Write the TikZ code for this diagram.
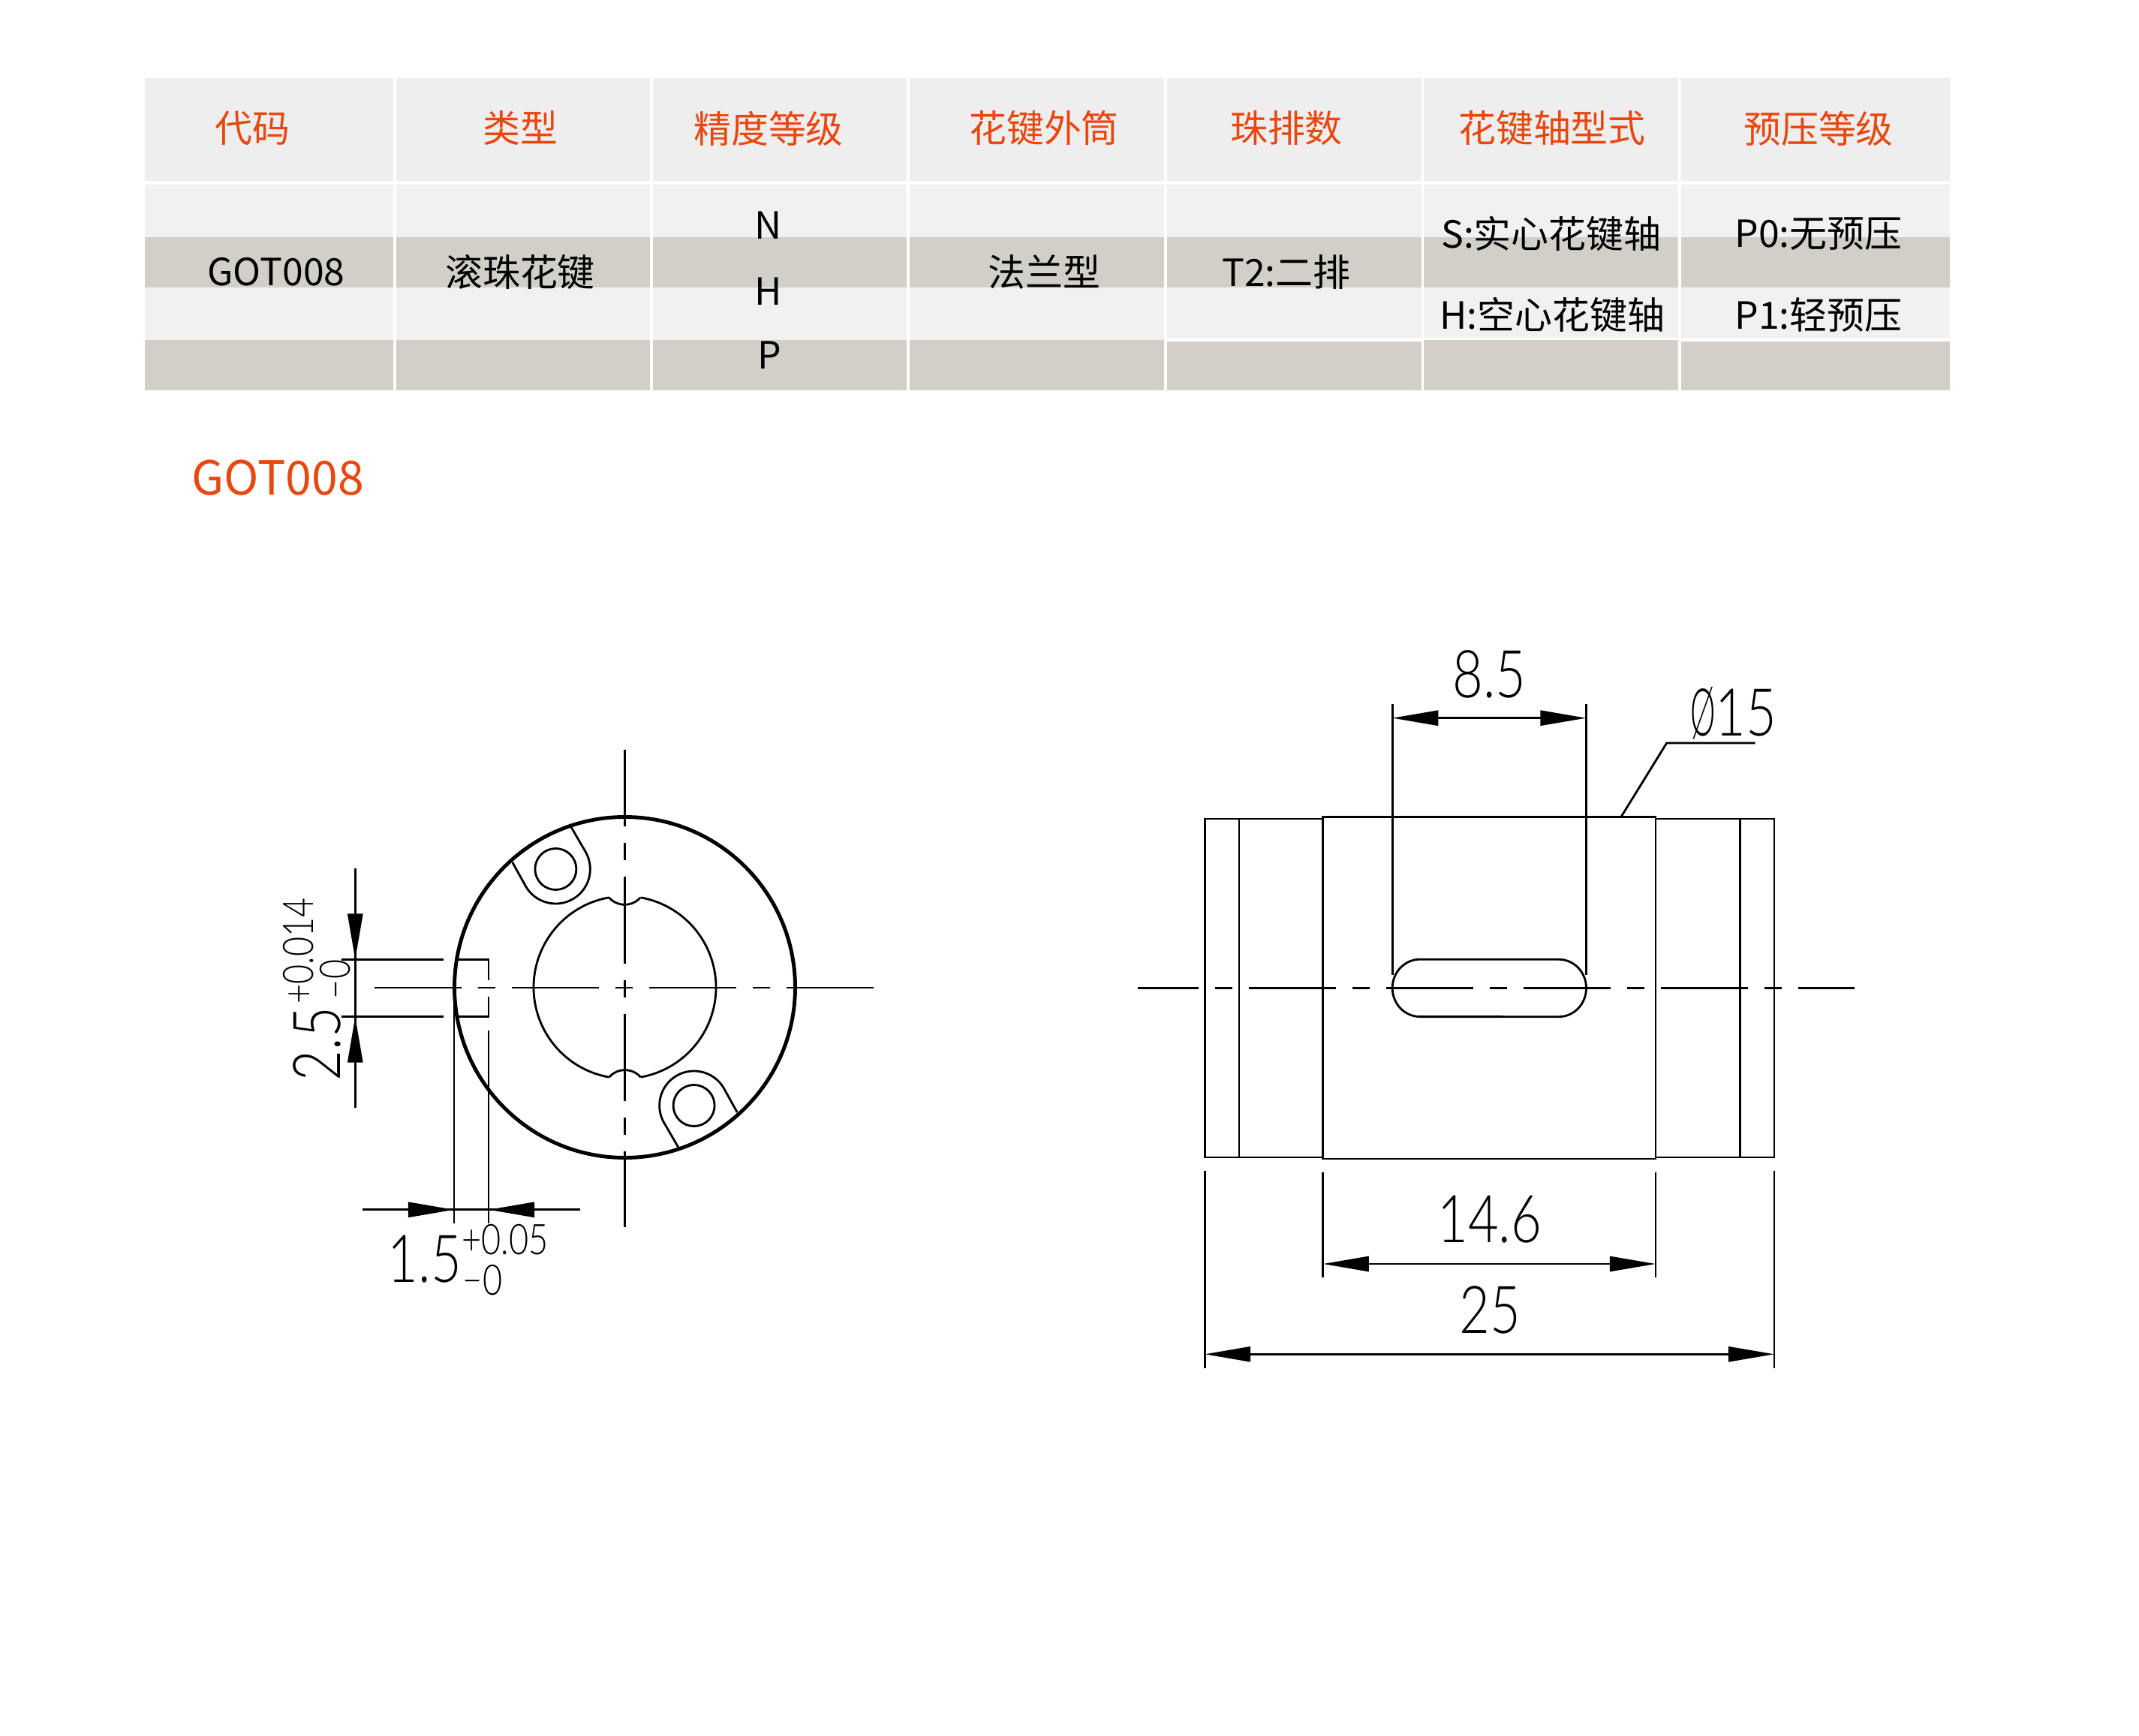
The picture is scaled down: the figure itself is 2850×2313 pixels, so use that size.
\documentclass[tikz,border=0pt]{standalone}
\usepackage{fontspec}
\usepackage{graphicx}
\usetikzlibrary{arrows.meta}
\setmainfont{Noto Sans CJK SC}
\newfontfamily\cadfont[FakeStretch=0.8,UprightFont={* Light}]{Lato}
\definecolor{headgray}{HTML}{EEEEEE}
\definecolor{lightgray}{HTML}{F1F1F1}
\definecolor{bandgray}{HTML}{D1CFC8}
\definecolor{codeorange}{HTML}{E8480F}
\tikzset{
    headtext/.style={text=codeorange, inner sep=0pt, font=\fontsize{14.2pt}{16pt}\selectfont},
    celltext/.style={text=black, inner sep=0pt, font=\fontsize{14.2pt}{16pt}\selectfont},
    dimtext/.style={inner sep=0pt, font=\cadfont\fontsize{25pt}{28pt}\selectfont},
    tolText/.style={inner sep=0pt, font=\cadfont\fontsize{16pt}{18pt}\selectfont},
    thinline/.style={line width=0.8pt},
    thickline/.style={line width=1.4pt},
    centerline/.style={line width=0.8pt, dash pattern=on 33pt off 6.26pt on 6.54pt off 6.26pt},
    dimarrow/.style={line width=0.8pt, {Triangle[length=0.61cm,width=0.2cm]}-{Triangle[length=0.61cm,width=0.2cm]}},
    tiparrow/.style={line width=0.8pt, -{Triangle[length=0.61cm,width=0.2cm]}}
}
\begin{document}
\begin{tikzpicture}[x=0.01cm,y=0.01cm]
    \useasboundingbox (0,0) rectangle (2850,-2313);
    % table cells, one column at a time
    \foreach \xa/\xb/\ylow/\ydark in {193/523.5/453/453.5, 527.5/866/453/453.5, 869.5/1208/453/453.5, 1212/1551/453/453.5, 1555/1893.5/450/455, 1897/2236/450/453.3, 2240/2598/450/455} {
        \fill[headgray] (\xa,-104) rectangle (\xb,-241);
        \fill[lightgray] (\xa,-246) rectangle (\xb,-316);
        \fill[bandgray] (\xa,-316) rectangle (\xb,-383);
        \fill[lightgray] (\xa,-383) rectangle (\xb,-\ylow);
        \fill[bandgray] (\xa,-\ydark) rectangle (\xb,-520);
    }
    % table head
    \foreach \i/\x/\txt in {1/336/代码, 2/693/类型, 3/1024/精度等级, 4/1391/花键外筒, 5/1714/珠排数, 6/2068/花键轴型式, 7/2423/预压等级}
        \node[headtext] (head\i) at (\x,-171) {\txt};
    % table body
    \node[celltext] (code) at (368,-362.5) {GOT008};
    \node[celltext] (kind) at (693,-362.5) {滚珠花键};
    \node[celltext] (gradeN) at (1024,-300) {N};
    \node[celltext] (gradeH) at (1024,-388) {H};
    \node[celltext] (gradeP) at (1025,-473) {P};
    \node[celltext] (flange) at (1391.5,-362.5) {法兰型};
    \node[celltext] (rows) at (1714,-362.5) {T2:二排};
    \node[celltext] (shaftS) at (2067,-311.5) {S:实心花键轴};
    \node[celltext] (shaftH) at (2068,-419.5) {H:空心花键轴};
    \node[celltext] (preA) at (2423,-312) {P0:无预压};
    \node[celltext] (preB) at (2423,-420) {P1:轻预压};
    \node[text=codeorange, inner sep=0pt, font=\fontsize{17.8pt}{20pt}\selectfont] (title) at (370,-637) {GOT008};

    % end view
    \coordinate (O) at (832.5,-1315.5);
    \draw[thickline] (O) circle[radius=227];
    \foreach \a in {0,180} {
        \begin{scope}[rotate around={\a:(O)}]
            \draw[thinline] (740.4,-1158) circle[radius=27.5];
            \draw[thinline] (761,-1102) -- (780.2,-1135) arc (30:-149:46) -- (682.8,-1149);
            % bore half with its notch
            \draw[thinline] (O) ++(100:121.5) arc (100:260:121.5);
            \draw[thinline] (O) ++(100:121.5) arc (221.4:318.6:28);
        \end{scope}
    }
    \draw[centerline] (499,-1316) -- (1165.5,-1316);
    \draw[centerline, dash phase=4pt] (832.5,-999) -- (832.5,-1635);
    % keyway and its dimensions
    \draw[thinline] (455,-1278.5) -- (591,-1278.5);
    \draw[thinline] (455,-1354.6) -- (591,-1354.6);
    \draw[thinline] (609,-1278.5) -- (651,-1278.5) -- (651,-1306);
    \draw[thinline] (651,-1328) -- (651,-1354.6) -- (609,-1354.6);
    \draw[thinline] (651,-1373) -- (651,-1630);
    \draw[thinline] (605,-1318) -- (605,-1630);
    \draw[thinline] (473.3,-1156.6) -- (473.3,-1476.5);
    \draw[tiparrow] (473.3,-1218) -- (473.3,-1278.5);
    \draw[tiparrow] (473.3,-1415) -- (473.3,-1354.6);
    \draw[thinline] (482.6,-1611.8) -- (773.3,-1611.8);
    \draw[tiparrow] (544,-1611.8) -- (605,-1611.8);
    \draw[tiparrow] (711.4,-1611.8) -- (651,-1611.8);
    \node[dimtext, rotate=90] (keyH) at (422,-1391) {2.5};
    \node[tolText, rotate=90] (keyHup) at (398,-1267) {+0.014};
    \node[tolText, rotate=90] (keyHlow) at (447,-1305) {−0};
    \node[dimtext] (keyW) at (566,-1678) {1.5};
    \node[tolText] (keyWup) at (673,-1652) {+0.05};
    \node[tolText] (keyWlow) at (643,-1706) {−0};

    % side view
    \draw[thinline] (1605.2,-1091) rectangle (1762.8,-1542);
    \draw[thinline] (2206,-1091) rectangle (2364,-1542);
    \draw[thinline] (1651,-1091) -- (1651,-1542);
    \draw[thinline] (2318.2,-1091) -- (2318.2,-1542);
    \draw[thinline, fill=white] (1762.8,-1088.3) rectangle (2206,-1544);
    \draw[thinline] (1892,-1278.3) -- (2077,-1278.3) arc (90:-90:36.5 and 38.2) -- (1892,-1354.6) arc (270:90:36.8 and 38.2) -- cycle;
    \draw[centerline, dash phase=10pt] (1516,-1316.5) -- (2471,-1316.5);
    % side view dimensions
    \draw[thinline] (1855.2,-938) -- (1855.2,-1299);
    \draw[thinline] (2113.5,-938) -- (2113.5,-1299);
    \draw[dimarrow] (1855.2,-956.7) -- (2113.5,-956.7);
    \node[dimtext] (slot) at (1984.7,-898.7) {8.5};
    \draw[thinline] (2160,-1088.3) -- (2220.7,-990) -- (2338.6,-990);
    \node[dimtext] (dia) at (2310,-950) {\scalebox{0.6}[1]{Ø}15};
    \draw[thinline] (1762.8,-1561.8) -- (1762.8,-1702.5);
    \draw[thinline] (2206,-1561.8) -- (2206,-1702.5);
    \draw[dimarrow] (1762.8,-1684) -- (2206,-1684);
    \node[dimtext] (mid) at (1984.7,-1624.5) {14.6};
    \draw[thinline] (1605.2,-1559.6) -- (1605.2,-1823.2);
    \draw[thinline] (2364,-1559.6) -- (2364,-1823.2);
    \draw[dimarrow] (1605.2,-1804.3) -- (2364,-1804.3);
    \node[dimtext] (total) at (1985,-1745) {25};
\end{tikzpicture}
\end{document}
